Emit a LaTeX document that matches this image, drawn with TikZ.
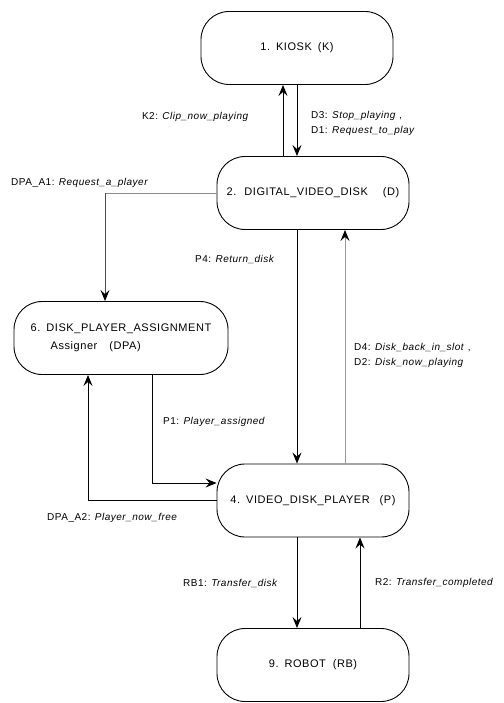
\documentclass[tikz,border=0pt]{standalone}
\usepackage{fontspec}
\setmainfont{Liberation Sans}[LetterSpace=5]
\usetikzlibrary{arrows.meta}
\begin{document}
\begin{tikzpicture}[x=1pt,y=-1pt,
  proc/.style={draw,line width=0.9pt,rounded corners=28pt,minimum width=192pt,minimum height=73pt,align=center,font=\fontsize{11}{18}\selectfont},
  conn/.style={line width=0.9pt,-{Stealth[length=11pt,width=9pt,inset=4pt,color=black]}},
  lbl/.style={font=\fontsize{10}{15}\selectfont,align=left,inner sep=0pt,anchor=west}]
\useasboundingbox (0,0) rectangle (503,703);
\node[proc] (kiosk) at (297,48) {1.\hspace{6pt}KIOSK\hspace{6pt}(K)};
\node[proc] (dvd) at (313,193) {2.\hspace{8pt}DIGITAL\_VIDEO\_DISK\hspace{15pt}(D)};
\node[proc,minimum width=214pt,align=left] (dpa) at (121,338) {6.\hspace{6pt}DISK\_PLAYER\_ASSIGNMENT\\\hspace*{20pt}Assigner\hspace{12pt}(DPA)};
\node[proc] (vdp) at (313,500.5) {4.\hspace{6pt}VIDEO\_DISK\_PLAYER\hspace{10pt}(P)};
\node[proc] (robot) at (313,665) {9.\hspace{6pt}ROBOT\hspace{7pt}(RB)};

\coordinate (a1c) at ([xshift=-16pt]dpa.north |- dvd.west);

\draw[conn] ([xshift=-14pt]kiosk.south |- dvd.north) -- ([xshift=-14pt]kiosk.south);
\draw[conn] (kiosk.south) -- (kiosk.south |- dvd.north);
\draw[line width=0.9pt,black!45] (dvd.west) -- (a1c);
\draw[conn,black!70] (a1c) -- ([xshift=-16pt]dpa.north);
\draw[conn] ([xshift=-16pt]dvd.south) -- ([xshift=-16pt]dvd.south |- vdp.north);
\draw[conn,black!40] ([xshift=32pt]vdp.north) -- ([xshift=32pt]vdp.north |- dvd.south);
\draw[conn] ([xshift=31pt]dpa.south) |- ([yshift=17.5pt]vdp.west);
\draw[conn] (vdp.west) -| ([xshift=-33pt]dpa.south);
\draw[conn] ([xshift=-16pt]vdp.south) -- ([xshift=-16pt]vdp.south |- robot.north);
\draw[conn] ([xshift=47pt]vdp.south |- robot.north) -- ([xshift=47pt]vdp.south);

\node[lbl,anchor=east] (lk2) at (249,117) {K2: \textit{Clip\_now\_playing}};
\node[lbl] (ld3) at (311,123) {D3: \textit{Stop\_playing} ,\\D1: \textit{Request\_to\_play}};
\node[lbl] (la1) at (11,183) {DPA\_A1: \textit{Request\_a\_player}};
\node[lbl] (lp4) at (195,259) {P4: \textit{Return\_disk}};
\node[lbl] (ld4) at (354,355) {D4: \textit{Disk\_back\_in\_slot} ,\\D2: \textit{Disk\_now\_playing}};
\node[lbl] (lp1) at (163,422) {P1: \textit{Player\_assigned}};
\node[lbl] (la2) at (47,518) {DPA\_A2: \textit{Player\_now\_free}};
\node[lbl] (lrb1) at (183,583) {RB1: \textit{Transfer\_disk}};
\node[lbl] (lr2) at (375,583) {R2: \textit{Transfer\_completed}};
\end{tikzpicture}
\end{document}
